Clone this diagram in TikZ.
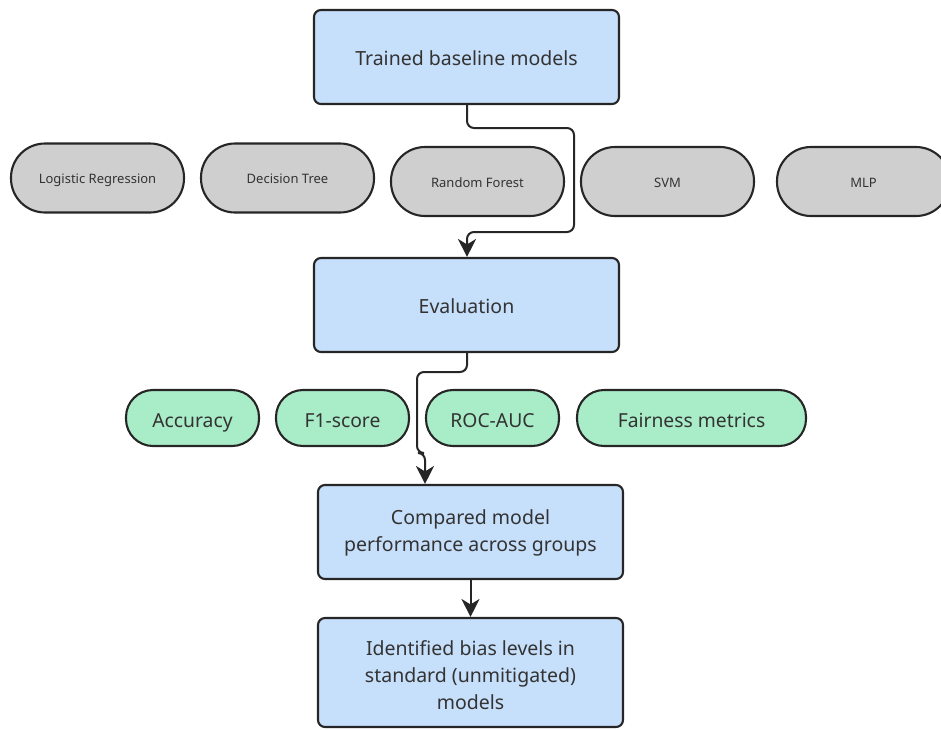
\documentclass[tikz,border=0pt]{standalone}
\usepackage{fontspec}
\setmainfont{Noto Sans}
\usetikzlibrary{arrows.meta}
\definecolor{bluef}{HTML}{C6DFFA}
\definecolor{grayf}{HTML}{CFCFCF}
\definecolor{greenf}{HTML}{A9ECC8}
\definecolor{edge}{HTML}{262626}
\definecolor{txt}{HTML}{333333}
\begin{document}
\begin{tikzpicture}[x=1pt,y=-1pt,
  bluebox/.style={draw=edge,line width=2.1pt,fill=bluef,rounded corners=7pt,minimum width=305pt,align=center,text=txt,font=\fontsize{19.5}{27}\selectfont,inner sep=0pt,text depth=0pt},
  graypill/.style={draw=edge,line width=2.1pt,fill=grayf,rounded corners=34pt,minimum width=173pt,minimum height=69pt,text=txt,font=\fontsize{13}{15}\selectfont,inner sep=0pt,text height=11pt,text depth=0pt},
  greenpill/.style={draw=edge,line width=2.1pt,fill=greenf,rounded corners=27pt,minimum height=56pt,text=txt,font=\fontsize{19.3}{22}\selectfont,inner sep=0pt,text height=18pt,text depth=0pt},
  tip/.tip={Stealth[length=18pt,width=18pt,inset=5.5pt]},
  conn/.style={draw=edge,line width=2pt,-tip}]
\useasboundingbox (0,0) rectangle (941,729);
\node[bluebox,minimum height=94pt,text height=16pt] (train) at (466.5,57) {Trained baseline models};
\node[graypill] (lr) at (97.5,178) {Logistic Regression};
\node[graypill] (dt) at (287.5,178) {Decision Tree};
\node[graypill] (rf) at (477.5,181.5) {Random Forest};
\node[graypill] (svm) at (667.5,181.5) {SVM};
\node[graypill] (mlp) at (863.5,181.5) {MLP};
\node[bluebox,minimum height=94pt,text height=16pt] (eval) at (466.5,305) {Evaluation};
\node[greenpill,minimum width=133pt] (acc) at (192.5,418) {Accuracy};
\node[greenpill,minimum width=133pt] (f1) at (342.5,418) {F1-score};
\node[greenpill,minimum width=133pt] (roc) at (492.5,418) {ROC-AUC};
\node[greenpill,minimum width=229pt] (fair) at (691.5,418) {Fairness metrics};
\node[bluebox,minimum height=94pt,text height=39.5pt] (comp) at (470.5,532) {Compared model\\performance across groups};
\node[bluebox,minimum height=109pt,text height=73.5pt] (ident) at (470.5,672.5) {Identified bias levels in\\standard (unmitigated)\\models};
\coordinate (t1) at (467,128);
\coordinate (t2) at (574,128);
\coordinate (t3) at (574,232);
\coordinate (t4) at (467,232);
\draw[conn] (train.south -| t1) [rounded corners=7pt] -- (t1) -- (t2) -- (t3) -- (t4) [sharp corners] -- (eval.north -| t4);
\coordinate (e1) at (467,372);
\coordinate (e2) at (417,372);
\coordinate (e3) at (417,453);
\coordinate (e4) at (425,453);
\draw[conn] (eval.south -| e1) [rounded corners=7pt] -- (e1) -- (e2) -- (e3) -- (e4) [sharp corners] -- (comp.north -| e4);
\draw[conn] (comp.south) -- (ident.north);
\end{tikzpicture}
\end{document}
